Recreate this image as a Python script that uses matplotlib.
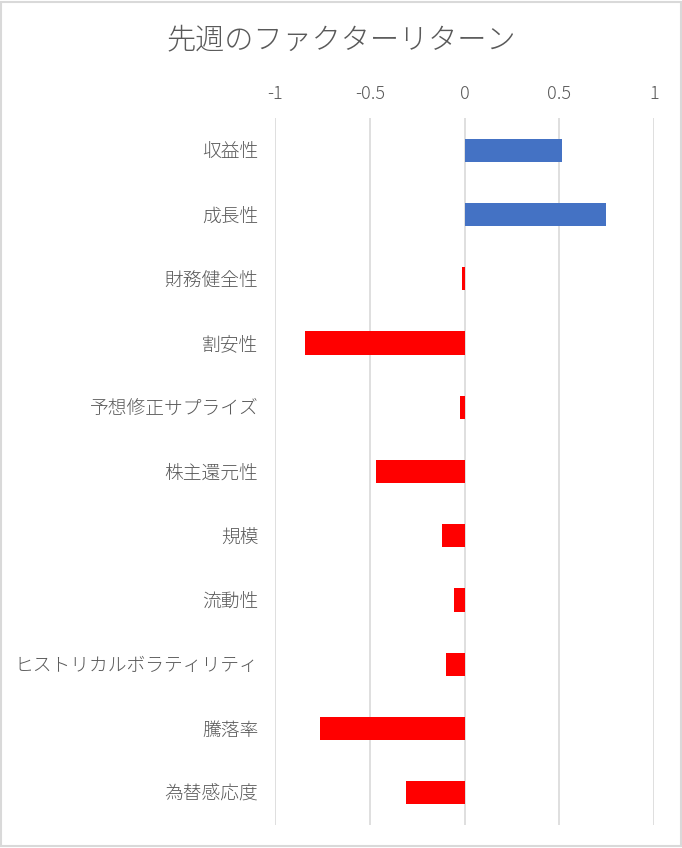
import numpy as np
import matplotlib.pyplot as plt
from matplotlib.patches import Rectangle

plt.rcParams['font.family'] = ['Noto Sans CJK JP', 'DejaVu Sans']
plt.rcParams['font.weight'] = 'light'

# data
factors = ['収益性', '成長性', '財務健全性', '割安性', '予想修正サプライズ', '株主還元性',
           '規模', '流動性', 'ヒストリカルボラティリティ', '騰落率', '為替感応度']
returns = [0.515, 0.747, -0.012, -0.844, -0.022, -0.469,
           -0.121, -0.058, -0.095, -0.764, -0.311]
xticks = [-1, -0.5, 0, 0.5, 1]
xtick_labels = ['-1', '-0.5', '0', '0.5', '1']

text_col = '#595959'
grid_col = '#d9d9d9'

fig = plt.figure(figsize=(6.82, 8.48), dpi=100)
ax = fig.add_axes([275/682, 1-825/848, (654-275)/682, (825-118)/848])

y = np.arange(len(factors))
colors = ['#4472C4' if v > 0 else '#FF0000' for v in returns]
ax.barh(y, returns, height=0.36, color=colors, zorder=3)

ax.set_xlim(-1, 1)
ax.set_ylim(len(factors)-0.5, -0.5)
ax.set_yticks(y)
ax.set_yticklabels(factors, fontsize=13.5, color=text_col)
ax.set_xticks(xticks)
ax.set_xticklabels(xtick_labels, fontsize=13, color=text_col)
ax.xaxis.tick_top()
ax.tick_params(axis='x', length=0, pad=11)
ax.tick_params(axis='y', length=0, pad=12)
ax.grid(axis='x', color=grid_col, linewidth=1.2, zorder=0)
for s in ax.spines.values():
    s.set_visible(False)

fig.text(0.5, 1-40/848, '先週のファクターリターン', ha='center', va='center',
         fontsize=21, color=text_col)

# outer chart border
fig.patches.append(Rectangle((0.002, 0.002), 0.996, 0.996, transform=fig.transFigure,
                             fill=False, edgecolor=grid_col, linewidth=1.5))

fig.savefig('out.png', dpi=100)
